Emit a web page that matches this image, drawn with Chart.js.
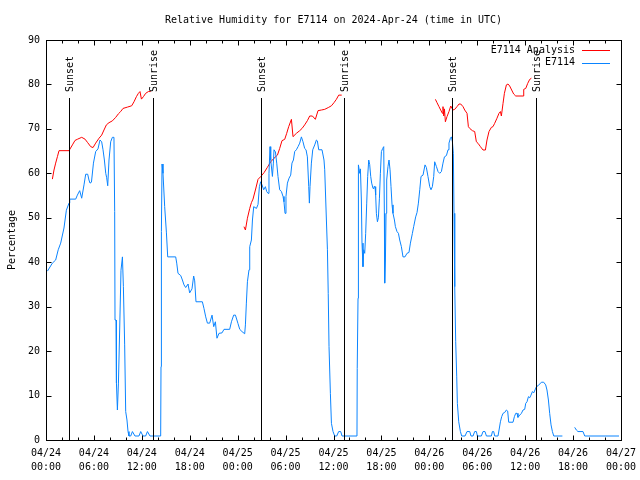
<!DOCTYPE html>
<html>
<head>
<meta charset="utf-8">
<script src="https://cdn.jsdelivr.net/npm/chart.js@4.4.1/dist/chart.umd.min.js"></script>
<style>
  html, body { margin: 0; padding: 0; background: #fff; }
</style>
</head>
<body>
<canvas id="rhChart" width="640" height="480"></canvas>
<script>
// hours since 2024-04-24 00:00 UTC
const stationHours = [
  0.18,0.80,1.21,1.53,1.84,2.25,2.55,2.88,2.97,3.72,
  3.93,4.22,4.47,4.76,4.97,5.22,5.38,5.51,5.69,5.94,
  6.22,6.51,6.76,6.97,7.14,7.31,7.48,7.60,7.73,7.89,
  8.10,8.31,8.51,8.60,8.64,8.77,8.82,8.94,9.07,9.23,
  9.39,9.57,9.69,9.85,9.98,10.14,10.27,10.39,10.61,10.82,
  11.14,11.64,11.86,12.15,12.48,12.70,13.02,14.36,14.40,14.45,
  14.53,14.65,14.86,15.08,15.24,16.24,16.37,16.53,16.87,17.08,
  17.28,17.49,17.71,17.78,17.99,18.28,18.49,18.62,18.78,19.58,
  19.78,20.00,20.21,20.50,20.79,21.00,21.21,21.41,21.66,22.04,
  22.29,23.00,23.22,23.50,23.72,24.04,24.26,24.54,24.88,24.97,
  25.09,25.22,25.42,25.51,25.72,25.85,26.01,26.35,26.55,26.72,
  26.88,27.05,27.26,27.47,27.64,27.80,27.92,28.05,28.14,28.35,
  28.47,28.55,28.73,28.89,29.05,29.26,29.48,29.68,29.80,29.93,
  30.05,30.23,30.43,30.64,30.80,30.98,31.14,31.35,31.56,31.77,
  31.98,32.18,32.39,32.56,32.73,32.90,32.98,33.06,33.23,33.40,
  33.65,33.86,33.98,34.15,34.56,34.81,34.90,35.11,35.24,35.34,
  35.44,35.61,35.74,35.94,36.15,36.40,36.65,36.90,37.07,38.94,
  38.97,39.07,39.09,39.15,39.28,39.37,39.49,39.57,39.69,39.78,
  39.91,40.03,40.16,40.28,40.41,40.53,40.66,40.78,40.95,41.07,
  41.20,41.28,41.37,41.50,41.62,41.75,41.87,42.00,42.16,42.29,
  42.37,42.41,42.50,42.58,42.66,42.82,42.95,43.08,43.20,43.33,
  43.45,43.63,43.75,43.95,44.13,44.29,44.50,44.70,44.95,45.20,
  45.45,45.63,45.88,46.04,46.29,46.46,46.63,46.80,46.96,47.21,
  47.46,47.63,47.83,48.05,48.21,48.38,48.55,48.67,48.89,49.09,
  49.30,49.51,49.71,49.89,50.14,50.34,50.46,50.64,50.76,50.89,
  51.01,51.09,51.18,51.30,51.43,51.51,51.68,51.89,52.05,52.47,
  52.72,53.06,53.22,53.47,53.68,53.89,54.02,54.52,54.72,54.97,
  55.15,55.77,55.90,56.06,56.19,56.60,56.73,56.90,57.06,57.23,
  57.44,57.65,57.81,57.94,58.48,58.65,58.82,58.98,59.10,59.32,
  59.53,59.73,59.94,60.07,60.23,60.41,60.57,60.73,60.91,61.07,
  61.23,61.41,61.61,61.82,62.03,62.32,62.57,62.73,62.91,63.07,
  63.24,63.41,63.58,64.66,65.40,66.20,66.41,66.61,67.24,67.46,
  71.75
];
const stationRh = [
  38,39.8,40.5,42.8,44.3,47.7,51.7,53.3,54.2,54.2,
  55.1,56.1,54.4,57.4,59.8,59.8,58.5,57.8,58,62.3,
  64.9,65.5,67.5,67.1,65.3,63,60,59,57.2,63,
  67.1,68.1,68.1,51.4,27,27,12.8,6.75,12.8,25.2,
  38.2,41.2,34.5,21.4,6.4,4.5,1.9,0.9,0.9,1.9,
  0.9,0.9,1.9,0.9,0.9,1.9,0.9,0.9,16.5,46.9,
  62.1,60,52.5,46.6,41.2,41.2,39.8,37.5,37,36,
  34.9,34.3,34.9,35.1,33.1,34,36.9,35.8,31.1,31.1,
  29.6,27.7,26.3,26.3,28.1,25.5,26.6,22.9,24,24.1,
  24.9,24.9,26.6,28.1,28.1,26.2,24.9,24.4,23.9,25.9,
  30.8,35.6,38.3,43.5,45,49.5,52.5,52.1,53,57,
  58.1,57.4,56.3,57,55.9,55.5,60,66,63,59.3,
  62.3,65.3,64.8,62.3,59.3,56.3,55.9,54.8,53.6,51,
  54.8,57.8,58.9,59.6,62.3,63,64.9,65.3,66,66.8,
  68.2,67.1,65.6,65.3,63.7,57,53.3,57,62.3,65.3,
  66.4,67.5,67.3,65.3,65.3,63,60.8,49.5,42.8,33,
  21,10.5,3.75,1.9,0.9,0.9,1.9,1.9,0.9,0.9,
  16.1,31.9,46.9,61.9,60,61,54,44.3,39,42.8,
  42,46.5,53.3,59.3,63,62,59.3,57.8,56.6,57,
  57,55.1,51,49.1,50,54.4,60,64.9,65.6,66,
  51,35.3,40.5,51,58.5,61.5,63,60.8,57,52.9,
  51,49.5,48,46.9,46.5,45,43.5,41.2,41.2,42,
  42.2,44.3,46.5,48,50.2,51.2,53.3,56.3,59.3,59.6,
  61.9,61.3,59.3,57,56.3,57,59.3,62.6,61.5,60.4,
  60,60.4,62.3,63.7,64,65.3,66.8,67.9,68.2,67.1,
  64.5,51,34.5,22.1,14.2,8.25,4.1,1.9,0.9,0.9,
  1.9,1.9,0.9,0.9,1.9,1.9,0.9,0.9,1.9,1.9,
  0.9,0.9,1.9,1.9,0.9,0.9,2.25,4.1,5.25,6,
  6.2,6.75,6.5,4,4,5.25,6,6,5.1,5.6,
  6,6.75,6.9,8.25,8.6,9.75,9.5,10.1,10.9,10.6,
  11.25,12,12.2,12.6,13,13,12.4,11.25,9,6,
  3.4,1.9,0.9,0.9,null,2.85,2.25,1.9,1.9,0.9,
  0.9
];
const analysisHours = [
  0.80,1.00,1.21,1.43,1.63,2.88,3.31,3.63,3.97,4.47,
  4.88,5.22,5.60,5.89,6.22,6.64,6.97,7.26,7.56,7.89,
  8.31,8.73,9.07,9.35,9.64,10.19,10.73,11.02,11.32,11.57,
  11.77,11.95,12.20,12.48,12.82,13.11,18.00,
  24.79,24.97,25.22,25.51,25.72,25.92,26.22,26.55,26.88,27.30,
  27.72,28.14,28.55,28.98,29.26,29.55,29.89,30.14,30.39,30.73,
  30.93,31.35,31.77,32.06,32.39,32.73,33.02,33.36,33.73,34.06,
  34.49,34.90,35.40,35.74,36.06,36.36,36.65,37.03,42.00,
  48.76,48.96,49.21,49.42,49.64,49.71,49.80,49.89,50.01,50.21,
  50.46,50.68,50.96,51.18,51.46,51.72,51.93,52.22,52.43,52.72,
  52.89,53.06,53.39,53.68,53.89,54.10,54.40,54.72,55.02,55.22,
  55.47,55.77,55.97,56.18,56.47,56.72,56.90,57.02,57.23,57.40,
  57.65,57.85,58.06,58.31,58.56,58.82,59.73,59.82,60.07,60.32,
  60.57,60.78
];
const analysisRh = [
  58.7,60.75,62.3,63.75,65.1,65.1,66.4,67.4,67.7,68.1,
  67.7,66.9,66,65.8,66.8,67.9,68.6,69.75,70.9,71.4,
  71.8,72.6,73.4,73.9,74.6,74.9,75.2,76.1,77.25,78,
  78.4,76.7,77.25,78,78.4,78.4,null,
  48,47.25,49.9,52.1,53.4,54.2,56.25,58.65,59.25,60.15,
  61.35,62.6,63.4,64.1,65.6,67.35,67.65,69,70.5,72.15,
  68.25,69,69.6,70.1,70.9,71.85,72.9,72.9,72.15,74.1,
  74.25,74.4,74.85,75.2,75.9,76.65,77.6,77.6,null,
  76.65,75.9,75,74.25,73.5,75,72.9,74.5,71.6,72.75,
  73.9,75.15,74.25,74.4,75,75.6,75.6,75,74.25,73.5,
  70.5,70.1,69.6,69.4,67.1,66.75,66,65.25,65.25,67.5,
  69.4,70.35,70.5,71.25,72.4,73.5,73.9,72.9,75.75,78,
  79.9,80.1,79.65,78.75,77.85,77.4,77.4,78.9,79.1,80.25,
  81.15,81.4
];
const sunsetHours = [2.88, 26.97, 50.84];
const sunriseHours = [13.40, 37.28, 61.41];
const sunLineTop = 77;
const dayLabels = ['04/24', '04/25', '04/26', '04/27'];
const yTicks = [0, 10, 20, 30, 40, 50, 60, 70, 80, 90];

const FONT_FAMILY = "'DejaVu Sans Mono', monospace";
const FONT = '10px ' + FONT_FAMILY;
Chart.defaults.color = '#000';
Chart.defaults.font.family = FONT_FAMILY;
Chart.defaults.font.size = 10;

const toPoints = (hours, vals) => hours.map((h, i) => ({ x: h, y: vals[i] }));

function hourLabel(v) {
  const day = dayLabels[Math.floor(v / 24)];
  const hh = String(v % 24).padStart(2, '0');
  return [day, hh + ':00'];
}

// gnuplot-ish frame, inward ticks, sun markers and legend
const gnuFrame = {
  id: 'gnuFrame',
  afterDatasetsDraw(chart) {
    const { ctx, chartArea: a, scales: { x, y } } = chart;
    const L = Math.round(a.left) + 0.5, R = Math.round(a.right) + 0.5;
    const T = Math.round(a.top) + 0.5, B = Math.round(a.bottom) + 0.5;
    ctx.save();
    ctx.strokeStyle = '#000';
    ctx.fillStyle = '#000';
    ctx.lineWidth = 1;
    ctx.font = FONT;

    // sunset / sunrise markers
    const marks = sunsetHours.map(h => [h, 'Sunset']).concat(sunriseHours.map(h => [h, 'Sunrise']));
    const topPx = Math.round(y.getPixelForValue(sunLineTop));
    marks.forEach(([h, txt]) => {
      const px = Math.round(x.getPixelForValue(h)) + 0.5;
      ctx.beginPath(); ctx.moveTo(px, topPx); ctx.lineTo(px, B); ctx.stroke();
      ctx.save();
      ctx.translate(px + 0.5, topPx - 6);
      ctx.rotate(-Math.PI / 2);
      ctx.textAlign = 'left'; ctx.textBaseline = 'middle';
      ctx.fillText(txt, 0, 0);
      ctx.restore();
    });

    // border
    ctx.strokeRect(L, T, R - L, B - T);

    // x ticks every 2h, major every 6h, bottom and top
    ctx.beginPath();
    for (let h = 0; h <= 72; h += 2) {
      const px = Math.round(x.getPixelForValue(h)) + 0.5;
      const len = h % 6 === 0 ? 5 : 3;
      ctx.moveTo(px, B); ctx.lineTo(px, B - len);
      ctx.moveTo(px, T); ctx.lineTo(px, T + len);
    }
    yTicks.forEach(v => {
      const py = Math.round(y.getPixelForValue(v)) + 0.5;
      ctx.moveTo(L, py); ctx.lineTo(L + 5, py);
      ctx.moveTo(R, py); ctx.lineTo(R - 5, py);
    });
    ctx.stroke();

    // legend, text right-aligned with sample line to the right
    const legendOrder = [1, 0];
    legendOrder.forEach((di, row) => {
      const ds = chart.data.datasets[di];
      const ly = 50 + row * 12.5;
      ctx.textAlign = 'right'; ctx.textBaseline = 'middle';
      ctx.fillStyle = '#000';
      ctx.fillText(ds.label, 575, ly);
      ctx.strokeStyle = ds.borderColor;
      ctx.beginPath(); ctx.moveTo(582, Math.round(ly) + 0.5); ctx.lineTo(610, Math.round(ly) + 0.5); ctx.stroke();
    });
    ctx.restore();
  }
};

new Chart(document.getElementById('rhChart'), {
  type: 'line',
  data: {
    datasets: [
      { label: 'E7114', data: toPoints(stationHours, stationRh), borderColor: '#0a84ff', borderWidth: 1, pointRadius: 0, tension: 0, spanGaps: false },
      { label: 'E7114 Analysis', data: toPoints(analysisHours, analysisRh), borderColor: '#ff0000', borderWidth: 1, pointRadius: 0, tension: 0, spanGaps: false }
    ]
  },
  options: {
    responsive: false,
    animation: false,
    layout: { padding: { top: 0, right: 19, left: 0, bottom: 0 } },
    plugins: {
      legend: { display: false },
      tooltip: { enabled: false },
      title: {
        display: true,
        fullSize: false,
        text: 'Relative Humidity for E7114 on 2024-Apr-24 (time in UTC)',
        font: { size: 10, weight: 'normal' },
        padding: { top: 14, bottom: 14 }
      }
    },
    scales: {
      x: {
        type: 'linear', min: 0, max: 72,
        grid: { display: false, drawTicks: false }, border: { display: false },
        ticks: { stepSize: 6, autoSkip: false, maxRotation: 0, padding: 6, font: { size: 10, lineHeight: 1.4 }, callback: hourLabel },
        afterFit: s => { s.height = 40; s.paddingLeft = 0; s.paddingRight = 0; }
      },
      y: {
        min: 0, max: 90,
        grid: { display: false, drawTicks: false }, border: { display: false },
        ticks: { stepSize: 10, padding: 6 },
        title: { display: true, text: 'Percentage', font: { size: 10 }, padding: { top: 6, bottom: 0 } },
        afterFit: s => { s.width = 46; }
      }
    }
  },
  plugins: [gnuFrame]
});
</script>
</body>
</html>
